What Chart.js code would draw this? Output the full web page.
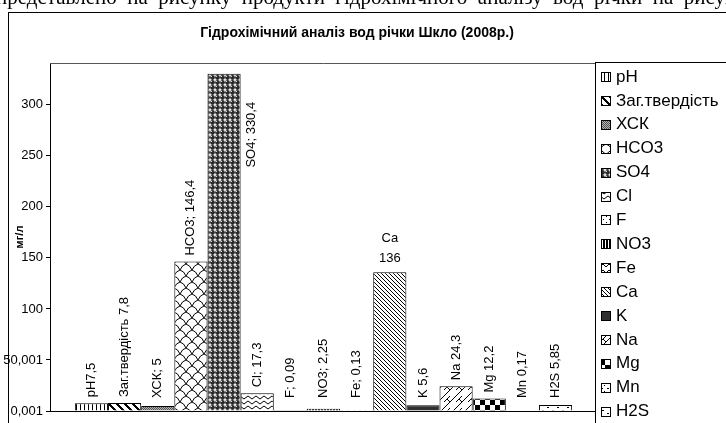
<!DOCTYPE html>
<html lang="uk">
<head>
<meta charset="utf-8">
<title>Гідрохімічний аналіз вод річки Шкло (2008р.)</title>
<script src="https://cdn.jsdelivr.net/npm/chart.js@4.4.1/dist/chart.umd.min.js"></script>
<style>
  html, body { margin: 0; padding: 0; background: #fff; }
  #wrap { position: relative; width: 726px; height: 423px; overflow: hidden; }
</style>
</head>
<body>
<div id="wrap"><canvas id="grafik" width="726" height="423"></canvas></div>
<script>
// Показники та їх значення, мг/л
const pokaznyky = ['pH', 'Заг.твердість', 'ХСК', 'HCO3', 'SO4', 'Cl', 'F', 'NO3', 'Fe', 'Ca', 'K', 'Na', 'Mg', 'Mn', 'H2S'];
const znachennya = [7.5, 7.8, 5, 146.4, 330.4, 17.3, 0.09, 2.25, 0.13, 136, 5.6, 24.3, 12.2, 0.17, 5.85];
// підписи над стовпчиками, {v} - значення
const pidpysy = ['pH{v}', 'Заг.твердість {v}', 'ХСК; {v}', 'HCO3; {v}', 'SO4; {v}', 'Cl; {v}', 'F; {v}', 'NO3; {v}', 'Fe; {v}', 'Ca\n{v}', 'K {v}', 'Na {v}', 'Mg {v}', 'Mn {v}', 'H2S {v}'];
const mitkyY = ['0,001', '50,001', '100', '150', '200', '250', '300'];

const nazva = 'Гідрохімічний аналіз вод річки Шкло (2008р.)';
const tekstZverhu = 'представлено  на  рисунку  продукти  гідрохімічного  аналізу  вод  річки  на  рисунку  та  розораних';

const SHRYFT = '"Liberation Sans", Arial, sans-serif';

const canvas = document.getElementById('grafik');
const ctx = canvas.getContext('2d');

// штрихування для стовпчиків
function tile(w, h, draw) {
    const c = document.createElement('canvas');
    c.width = w;
    c.height = h;
    const g = c.getContext('2d');
    g.fillStyle = '#fff';
    g.fillRect(0, 0, w, h);
    g.fillStyle = '#000';
    g.strokeStyle = '#000';
    g.lineWidth = 1;
    draw(g, w, h);
    return ctx.createPattern(c, 'repeat');
}

function pixels(g, w, h, test, color) {
    g.fillStyle = color || '#000';
    for (let y = 0; y < h; y++) {
        for (let x = 0; x < w; x++) {
            if (test(x, y)) g.fillRect(x, y, 1, 1);
        }
    }
}

const shtrykhy = [
    // pH - вертикальні лінії
    tile(4, 1, g => g.fillRect(0, 0, 1, 1)),
    // Заг.твердість - широкі діагоналі
    tile(8, 8, (g, w, h) => pixels(g, w, h, (x, y) => ((x - y + 16) % 8) < 3)),
    // ХСК - дрібна сітка
    tile(2, 2, (g, w, h) => { g.fillStyle = '#b0b0b0'; g.fillRect(0, 0, 2, 2); pixels(g, w, h, (x, y) => (x + y) % 2 === 0, '#555'); }),
    // HCO3 - луска
    tile(12, 12, g => {
        g.beginPath();
        g.moveTo(0, 6); g.quadraticCurveTo(2, 1, 6, 0);
        g.moveTo(6, 0); g.quadraticCurveTo(10, 1, 12, 6);
        g.moveTo(0, 6); g.quadraticCurveTo(4, 7, 6, 12);
        g.moveTo(6, 12); g.quadraticCurveTo(8, 7, 12, 6);
        g.stroke();
    }),
    // SO4 - кульки
    tile(5, 5, g => {
        g.fillStyle = '#2a2a2a';
        g.beginPath(); g.arc(2.5, 2.5, 2.4, 0, Math.PI * 2); g.fill();
        g.fillStyle = '#ddd';
        g.fillRect(1, 1, 1, 1);
    }),
    // Cl - зигзаг
    tile(8, 5, g => {
        g.beginPath(); g.moveTo(0, 1); g.lineTo(4, 4); g.lineTo(8, 1); g.stroke();
    }),
    // F
    tile(6, 6, g => { g.fillRect(0, 0, 1, 1); g.fillRect(3, 3, 1, 1); }),
    // NO3
    tile(3, 1, g => g.fillRect(0, 0, 2, 1)),
    // Fe
    tile(6, 6, g => { g.beginPath(); g.moveTo(0, 3); g.lineTo(3, 0); g.lineTo(6, 3); g.stroke(); }),
    // Ca - тонкі діагоналі
    tile(4, 4, (g, w, h) => pixels(g, w, h, (x, y) => x === y)),
    // K - суцільний
    '#303030',
    // Na - великі діагоналі
    tile(12, 12, g => {
        g.beginPath(); g.moveTo(0, 12); g.lineTo(12, 0);
        g.moveTo(-6, 12); g.lineTo(6, 0);
        g.moveTo(3, 3); g.lineTo(6, 6);
        g.stroke();
    }),
    // Mg - шахівниця
    tile(10, 10, g => { g.fillRect(0, 0, 5, 5); g.fillRect(5, 5, 5, 5); }),
    // Mn
    tile(6, 6, g => { g.fillRect(1, 4, 2, 1); g.fillRect(4, 1, 1, 1); }),
    // H2S - рідкі риски
    tile(10, 6, g => { g.fillRect(2, 2, 2, 1); g.fillRect(7, 5, 2, 1); })
];

function formatuy(v) {
    return String(v).replace('.', ',');
}

// фон, рамка діаграми, назва
const ramka = {
    id: 'ramka',
    beforeDraw(chart) {
        const c = chart.ctx;
        c.save();
        c.fillStyle = '#fff';
        c.fillRect(0, 0, chart.width, chart.height);
        c.fillStyle = '#000';
        c.font = '21px "Liberation Serif", "Times New Roman", serif';
        c.textBaseline = 'alphabetic';
        c.fillText(tekstZverhu, -4, 4);
        c.strokeStyle = '#000';
        c.lineWidth = 1;
        c.strokeRect(8.5, 12.5, 800, 500);
        c.font = 'bold 14px ' + SHRYFT;
        c.textAlign = 'center';
        c.textBaseline = 'middle';
        c.fillText(nazva, 357, 33);
        c.restore();
    },
    beforeDatasetsDraw(chart) {
        const a = chart.chartArea;
        const c = chart.ctx;
        c.save();
        c.strokeStyle = '#555';
        c.lineWidth = 1;
        c.beginPath();
        c.moveTo(a.left, Math.round(a.top) + 0.5);
        c.lineTo(a.right, Math.round(a.top) + 0.5);
        c.stroke();
        c.restore();
    }
};

// підписи значень над стовпчиками
const pidpysyZnachen = {
    id: 'pidpysyZnachen',
    afterDatasetsDraw(chart) {
        const a = chart.chartArea;
        const c = chart.ctx;
        c.save();
        c.fillStyle = '#000';
        c.font = '13px ' + SHRYFT;
        chart.data.datasets.forEach((ds, i) => {
            const bar = chart.getDatasetMeta(i).data[0];
            const text = pidpysy[i].replace('{v}', formatuy(ds.data[0]));
            if (text.indexOf('\n') >= 0) {
                const lines = text.split('\n');
                c.textAlign = 'center';
                c.textBaseline = 'middle';
                lines.forEach((line, k) => {
                    c.fillText(line, bar.x, bar.y - 14 - (lines.length - 1 - k) * 20);
                });
                return;
            }
            const w = c.measureText(text).width;
            let x = bar.x;
            let bottom = Math.min(bar.y - 6, a.bottom - 13);
            if (bottom - w < a.top) {
                // не вміщується над стовпчиком - ставимо збоку
                x = bar.x + bar.width / 2 + 11;
                bottom = bar.y + 28 + w;
            }
            c.save();
            c.translate(x, bottom);
            c.rotate(-Math.PI / 2);
            c.textAlign = 'left';
            c.textBaseline = 'middle';
            c.fillText(text, 0, 0);
            c.restore();
        });
        c.restore();
    }
};

// легенда праворуч
const lehenda = {
    id: 'lehenda',
    afterDraw(chart) {
        const c = chart.ctx;
        c.save();
        c.fillStyle = '#fff';
        c.strokeStyle = '#000';
        c.lineWidth = 1;
        c.fillRect(595.5, 62.5, 200, 400);
        c.strokeRect(595.5, 62.5, 200, 400);
        c.font = '17px ' + SHRYFT;
        c.textAlign = 'left';
        c.textBaseline = 'middle';
        chart.data.datasets.forEach((ds, i) => {
            const y = 77 + i * 23.9;
            c.fillStyle = ds.backgroundColor;
            c.fillRect(601, Math.round(y - 5), 10, 10);
            c.strokeStyle = '#000';
            c.strokeRect(601.5, Math.round(y - 5) + 0.5, 9, 9);
            c.fillStyle = '#000';
            c.fillText(ds.label, 616, y);
        });
        c.restore();
    }
};

const datasets = pokaznyky.map((nazvaPokaznyka, i) => ({
    label: nazvaPokaznyka,
    data: [znachennya[i]],
    backgroundColor: shtrykhy[i],
    borderColor: '#000',
    borderWidth: 1,
    categoryPercentage: 0.909,
    barPercentage: 1
}));

new Chart(canvas, {
    type: 'bar',
    data: {
        labels: [''],
        datasets: datasets
    },
    options: {
        responsive: false,
        animation: false,
        devicePixelRatio: 1,
        layout: {
            padding: { left: 0, top: 63, right: 129, bottom: 12 }
        },
        plugins: {
            legend: { display: false },
            title: { display: false },
            tooltip: { enabled: false }
        },
        scales: {
            x: {
                ticks: { display: false },
                grid: { display: false, drawTicks: false },
                border: { display: true, color: '#000', width: 1 },
                afterFit: function(scale) { scale.height = 0; }
            },
            y: {
                min: 0,
                max: 341,
                ticks: {
                    stepSize: 50,
                    color: '#000',
                    padding: 3,
                    font: { family: SHRYFT, size: 13 },
                    callback: function(value) {
                        return mitkyY[Math.round(value / 50)];
                    }
                },
                afterBuildTicks: function(scale) {
                    scale.ticks = scale.ticks.filter(t => t.value % 50 === 0);
                },
                grid: { drawOnChartArea: false, drawTicks: true, tickLength: 4, color: '#000' },
                border: { display: true, color: '#000', width: 1 },
                title: {
                    display: true,
                    text: 'мг/л',
                    color: '#000',
                    font: { family: SHRYFT, size: 11, weight: 'bold' },
                    padding: { top: 13, bottom: 0 }
                },
                afterFit: function(scale) { scale.width = 50; }
            }
        }
    },
    plugins: [ramka, pidpysyZnachen, lehenda]
});
</script>
</body>
</html>
